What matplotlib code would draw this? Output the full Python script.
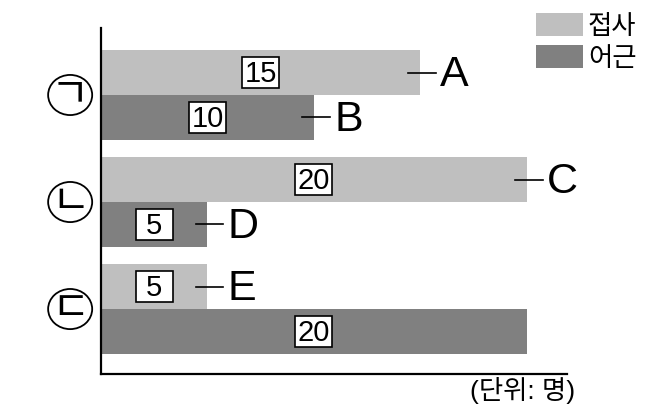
import matplotlib
matplotlib.use("Agg")
from matplotlib import pyplot as plt
from matplotlib.patches import Ellipse, Rectangle
import numpy as np

plt.rcParams['font.family'] = ['Liberation Sans', 'Noto Sans CJK KR', 'DejaVu Sans']

# %% data
groups = ['ㄱ', 'ㄴ', 'ㄷ']
affix_vals = [15, 20, 5]   # 접사
root_vals = [10, 5, 20]    # 어근
affix_tags = ['A', 'C', 'E']
root_tags = ['B', 'D', '']
legend_labels = ['접사', '어근']
unit_text = '(단위: 명)'

light = '#bfbfbf'
dark = '#808080'

# %% plot
fig = plt.figure(figsize=(6.5, 4.13), dpi=100)
ax = fig.add_axes([0.1554, 0.0944, 0.7169, 0.8378])

y = np.arange(len(groups))
h = 0.42
b1 = ax.barh(y - h / 2, affix_vals, height=h, color=light, label=legend_labels[0])
b2 = ax.barh(y + h / 2, root_vals, height=h, color=dark, label=legend_labels[1])

ax.set_xlim(0, 21.9)
ax.set_ylim(2.607, -0.626)

# fixed size value boxes (about 37x31 px)
bw, bh = 1.72, 0.29
for vals, tags, off in [(affix_vals, affix_tags, -h / 2), (root_vals, root_tags, h / 2)]:
    for i, (v, t) in enumerate(zip(vals, tags)):
        cy = i + off
        ax.add_patch(Rectangle((v / 2 - bw / 2, cy - bh / 2), bw, bh, facecolor='white',
                               edgecolor='black', linewidth=1.2, zorder=3))
        ax.text(v / 2, cy + 0.01, str(v), ha='center', va='center', fontsize=21, zorder=4)
        if t:
            ax.plot([v - 0.55, v + 0.75], [cy, cy], color='black', lw=1.2, clip_on=False)
            ax.text(v + 0.95, cy + 0.02, t, ha='left', va='center', fontsize=31)

for i, g in enumerate(groups):
    ax.add_patch(Ellipse((-1.45, i), 2.07, 0.375, facecolor='white', edgecolor='black',
                         linewidth=1.3, clip_on=False))
    ax.text(-1.45, i, g, ha='center', va='center', fontsize=30, fontweight='light',
            family=['Noto Sans CJK KR'], clip_on=False)

ax.spines['top'].set_visible(False)
ax.spines['right'].set_visible(False)
ax.spines['left'].set_linewidth(1.6)
ax.spines['bottom'].set_linewidth(1.6)
ax.set_xticks([])
ax.set_yticks([])

fig.legend(handles=[b1, b2], labels=legend_labels, loc='upper left',
           bbox_to_anchor=(0.805, 1.0), frameon=False, fontsize=19,
           handlelength=1.75, handleheight=0.95, handletextpad=0.2,
           labelspacing=0.25, borderaxespad=0.2, borderpad=0.3)

fig.text(575 / 650, 1 - 390 / 413, unit_text, ha='right', va='center', fontsize=19)

fig.savefig('out.png', dpi=100)
